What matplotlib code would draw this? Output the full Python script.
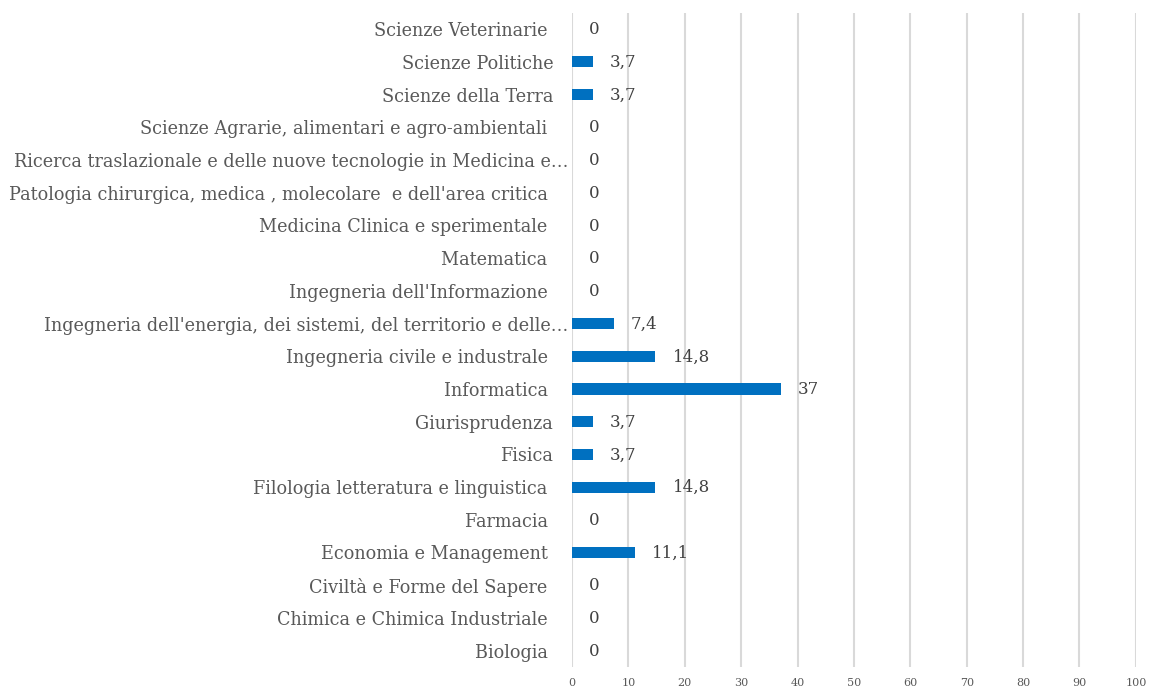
import matplotlib
matplotlib.use("Agg")
import matplotlib.pyplot as plt
from matplotlib.transforms import ScaledTranslation

categories = [
    "Biologia ",
    "Chimica e Chimica Industriale ",
    "Civiltà e Forme del Sapere ",
    "Economia e Management ",
    "Farmacia ",
    "Filologia letteratura e linguistica ",
    "Fisica",
    "Giurisprudenza",
    "Informatica ",
    "Ingegneria civile e industrale ",
    "Ingegneria dell'energia, dei sistemi, del territorio e delle…",
    "Ingegneria dell'Informazione ",
    "Matematica ",
    "Medicina Clinica e sperimentale ",
    "Patologia chirurgica, medica , molecolare  e dell'area critica ",
    "Ricerca traslazionale e delle nuove tecnologie in Medicina e…",
    "Scienze Agrarie, alimentari e agro-ambientali ",
    "Scienze della Terra",
    "Scienze Politiche",
    "Scienze Veterinarie ",
]
values = [0, 0, 0, 11.1, 0, 14.8, 3.7, 3.7, 37, 14.8, 7.4, 0, 0, 0, 0, 0, 0, 3.7, 3.7, 0]
value_labels = ["0", "0", "0", "11,1", "0", "14,8", "3,7", "3,7", "37", "14,8", "7,4",
                "0", "0", "0", "0", "0", "0", "3,7", "3,7", "0"]
xticks = [0, 10, 20, 30, 40, 50, 60, 70, 80, 90, 100]

plt.rcParams['font.family'] = ['DejaVu Serif']

fig = plt.figure(figsize=(11.52, 6.9), dpi=100)
ax = fig.add_axes([0.4965, 0.0334, 0.4895, 0.948])

y = list(range(len(categories)))
ax.barh(y, values, height=0.34, color="#0070C0", zorder=3)

for yi, v, lab in zip(y, values, value_labels):
    ax.annotate(lab, xy=(v, yi), xytext=(12.5, -0.5), textcoords="offset points",
                ha="left", va="center", fontsize=12, color="#404040", zorder=4)

ax.set_xlim(0, 100)
ax.set_ylim(-0.5, len(categories) - 0.5)
ax.set_xticks(xticks)
ax.set_xticklabels([str(t) for t in xticks], fontsize=8, color="#595959")
ax.set_yticks(y)
ax.set_yticklabels(categories, fontsize=12.7, color="#595959")
ax.tick_params(axis="y", length=0, pad=13.5)
ax.tick_params(axis="x", length=0, pad=8)
ax.grid(axis="x", color="#D9D9D9", linewidth=1.5, zorder=0)
for s in ax.spines.values():
    s.set_visible(False)

# truncated (ellipsis) labels sit closer to the axis, as in the original
for lbl in ax.get_yticklabels():
    if lbl.get_text().endswith("…"):
        lbl.set_transform(lbl.get_transform() + ScaledTranslation(15 / 100, 0, fig.dpi_scale_trans))

fig.savefig("out.png", dpi=100)
